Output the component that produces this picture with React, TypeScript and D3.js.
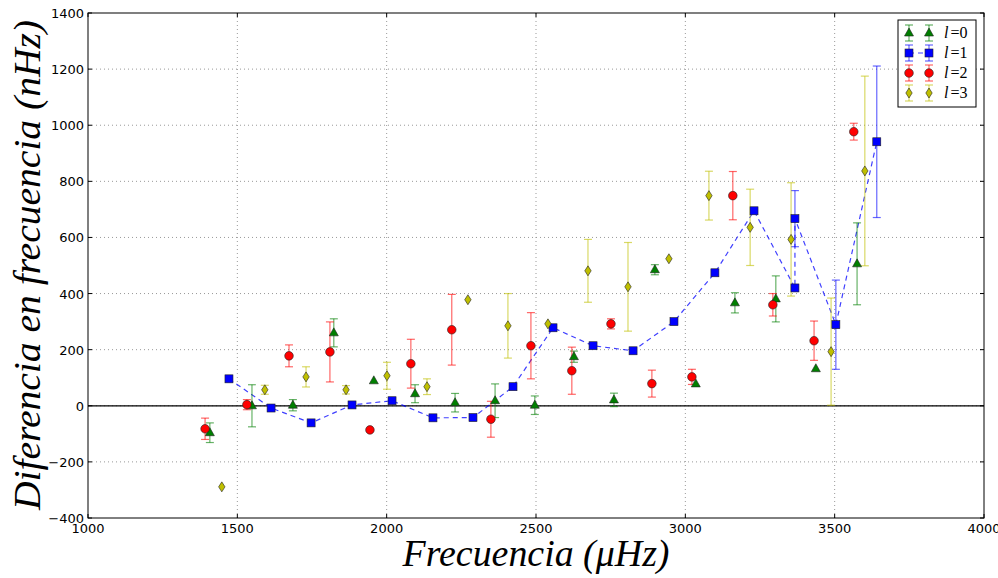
import React from "react";
import * as d3 from "d3";

const xTicks = [1000, 1500, 2000, 2500, 3000, 3500, 4000];
const yTicks = [-400, -200, 0, 200, 400, 600, 800, 1000, 1200, 1400];

// l=0 (green triangles)
const l0X = [1408, 1549, 1686, 1823, 1957, 2095, 2229, 2363, 2496, 2627, 2761, 2898, 3035, 3166, 3303, 3437, 3575];
const l0Y = [-96, 0, 2, 260, 89, 43, 11, 18, 2, 175, 21, 485, 78, 367, 381, 132, 506];
const l0E = [35, 75, 20, 50, 0, 32, 33, 60, 33, 20, 24, 18, 0, 36, 82, 0, 146];

// l=1 (blue squares, dashed line)
const l1X = [1472, 1613, 1747, 1884, 2018, 2155, 2289, 2423, 2557, 2691, 2825, 2962, 3099, 3230, 3367, 3367, 3504, 3641];
const l1Y = [96, -8, -61, 3, 18, -43, -42, 68, 278, 214, 196, 300, 474, 695, 420, 667, 289, 941];
const l1E = [0, 0, 0, 0, 0, 0, 0, 0, 0, 0, 0, 0, 0, 0, 0, 100, 159, 270];

// l=2 (red circles)
const l2X = [1392, 1532, 1673, 1810, 1944, 2081, 2218, 2349, 2483, 2620, 2751, 2888, 3022, 3159, 3293, 3431, 3564];
const l2Y = [-82, 4, 178, 192, -86, 150, 271, -48, 214, 125, 292, 79, 103, 749, 360, 232, 977];
const l2E = [38, 18, 39, 107, 0, 87, 126, 64, 118, 84, 18, 48, 27, 86, 40, 70, 30];

// l=3 (yellow thin diamonds)
const l3X = [1448, 1592, 1730, 1864, 2001, 2135, 2272, 2406, 2540, 2674, 2808, 2945, 3079, 3217, 3354, 3488, 3601];
const l3Y = [-289, 57, 103, 57, 107, 68, 378, 285, 292, 481, 424, 524, 749, 636, 593, 193, 837];
const l3E = [0, 16, 36, 15, 48, 28, 0, 115, 0, 112, 158, 0, 87, 136, 202, 191, 338];

const legendLabels = ["0", "1", "2", "3"];

const W = 998, H = 578;
const L = 88, R = 984, T = 13, B = 518;

type Kind = "tri" | "sq" | "circ" | "dia";

function Marker({ kind, x, y, color }: { kind: Kind; x: number; y: number; color: string }) {
  const sw = 0.6;
  const edge = "#222";
  if (kind === "tri") {
    const s = 5;
    return <path d={`M${x},${y - s} L${x + s * 0.9},${y + s * 0.6} L${x - s * 0.9},${y + s * 0.6} Z`} fill={color} stroke={edge} strokeWidth={sw} />;
  }
  if (kind === "sq") {
    return <rect x={x - 4} y={y - 4} width={8} height={8} fill={color} stroke={edge} strokeWidth={sw} />;
  }
  if (kind === "circ") {
    return <circle cx={x} cy={y} r={4.3} fill={color} stroke={edge} strokeWidth={sw} />;
  }
  return <path d={`M${x},${y - 5} L${x + 3.2},${y} L${x},${y + 5} L${x - 3.2},${y} Z`} fill={color} stroke={edge} strokeWidth={sw} />;
}

function ErrBar({ x, y1, y2, color }: { x: number; y1: number; y2: number; color: string }) {
  return (
    <g stroke={color} strokeOpacity={0.6} strokeWidth={1.2}>
      <line x1={x} x2={x} y1={y1} y2={y2} />
      <line x1={x - 4} x2={x + 4} y1={y1} y2={y1} />
      <line x1={x - 4} x2={x + 4} y1={y2} y2={y2} />
    </g>
  );
}

export default function App() {
  const xs = d3.scaleLinear().domain([1000, 4000]).range([L, R]);
  const ys = d3.scaleLinear().domain([-400, 1400]).range([B, T]);

  const series = [
    { X: l0X, Y: l0Y, E: l0E, kind: "tri" as Kind, color: "#007f00" },
    { X: l1X, Y: l1Y, E: l1E, kind: "sq" as Kind, color: "#0000ff" },
    { X: l2X, Y: l2Y, E: l2E, kind: "circ" as Kind, color: "#ff0000" },
    { X: l3X, Y: l3Y, E: l3E, kind: "dia" as Kind, color: "#bfbf00" },
  ];

  const line = d3.line<number>().x((_, i) => xs(l1X[i])).y((d) => ys(d));

  const tickFont = { fontFamily: "DejaVu Sans", fontSize: 13 };
  const labelFont = { fontFamily: "Liberation Serif", fontStyle: "italic" as const, fontSize: 37 };

  return (
    <svg width={W} height={H} style={{ position: "absolute", left: 0, top: 0, background: "#fff" }}>
      <rect x={0} y={0} width={W} height={H} fill="#fff" />
      {/* grid */}
      {xTicks.slice(1, -1).map((t) => (
        <line key={"gx" + t} x1={xs(t)} x2={xs(t)} y1={T} y2={B} stroke="#999" strokeWidth={1} strokeDasharray="1,3" />
      ))}
      {yTicks.slice(1, -1).map((t) => (
        <line key={"gy" + t} x1={L} x2={R} y1={ys(t)} y2={ys(t)} stroke="#999" strokeWidth={1} strokeDasharray="1,3" />
      ))}
      {/* zero line */}
      <line x1={L} x2={R} y1={ys(0)} y2={ys(0)} stroke="#000" strokeWidth={1.2} />

      {/* dashed l=1 line */}
      <path d={line(l1Y) || ""} fill="none" stroke="#0000ff" strokeOpacity={0.75} strokeWidth={1.2} strokeDasharray="5,4" />

      {/* error bars */}
      {series.map((s, si) => (
        <g key={"e" + si}>
          {s.X.map((xv, i) =>
            s.E[i] > 0 ? (
              <ErrBar key={i} x={xs(xv)} y1={ys(s.Y[i] + s.E[i])} y2={ys(s.Y[i] - s.E[i])} color={s.color} />
            ) : null
          )}
        </g>
      ))}
      {/* markers */}
      {series.map((s, si) => (
        <g key={"m" + si}>
          {s.X.map((xv, i) => (
            <Marker key={i} kind={s.kind} x={xs(xv)} y={ys(s.Y[i])} color={s.color} />
          ))}
        </g>
      ))}

      {/* frame */}
      <rect x={L} y={T} width={R - L} height={B - T} fill="none" stroke="#000" strokeWidth={1} />
      {/* ticks */}
      {xTicks.map((t) => (
        <g key={"tx" + t}>
          <line x1={xs(t)} x2={xs(t)} y1={B} y2={B - 4} stroke="#000" />
          <line x1={xs(t)} x2={xs(t)} y1={T} y2={T + 4} stroke="#000" />
          <text x={xs(t)} y={B + 15} textAnchor="middle" {...tickFont}>{t}</text>
        </g>
      ))}
      {yTicks.map((t) => (
        <g key={"ty" + t}>
          <line x1={L} x2={L + 4} y1={ys(t)} y2={ys(t)} stroke="#000" />
          <line x1={R} x2={R - 4} y1={ys(t)} y2={ys(t)} stroke="#000" />
          <text x={L - 4} y={ys(t) + 5} textAnchor="end" {...tickFont}>{t < 0 ? "\u2212" + Math.abs(t) : t}</text>
        </g>
      ))}

      {/* axis labels */}
      <text x={536} y={566} textAnchor="middle" {...labelFont} textLength={267} lengthAdjust="spacingAndGlyphs">
        Frecuencia (μHz)
      </text>
      <text transform={`translate(40,265) rotate(-90)`} textAnchor="middle" {...labelFont} textLength={490} lengthAdjust="spacingAndGlyphs">
        Diferencia en frecuencia (nHz)
      </text>

      {/* legend */}
      <g>
        <rect x={898} y={20} width={78} height={87} fill="#fff" stroke="#000" strokeWidth={1} />
        {series.map((s, i) => {
          const yy = 33 + i * 20;
          return (
            <g key={"lg" + i}>
              {s.kind === "sq" && (
                <line x1={909} x2={929} y1={yy} y2={yy} stroke="#0000ff" strokeOpacity={0.75} strokeWidth={1.2} strokeDasharray="5,4" />
              )}
              {[909, 929].map((lx) => (
                <g key={lx}>
                  <ErrBar x={lx} y1={yy - 8} y2={yy + 8} color={s.color} />
                  <Marker kind={s.kind} x={lx} y={yy} color={s.color} />
                </g>
              ))}
              <text x={944} y={yy + 5} fontFamily="Liberation Serif" fontSize={16}>
                <tspan fontStyle="italic">l</tspan>
                <tspan dx={2}>=</tspan>
                <tspan>{legendLabels[i]}</tspan>
              </text>
            </g>
          );
        })}
      </g>
    </svg>
  );
}
